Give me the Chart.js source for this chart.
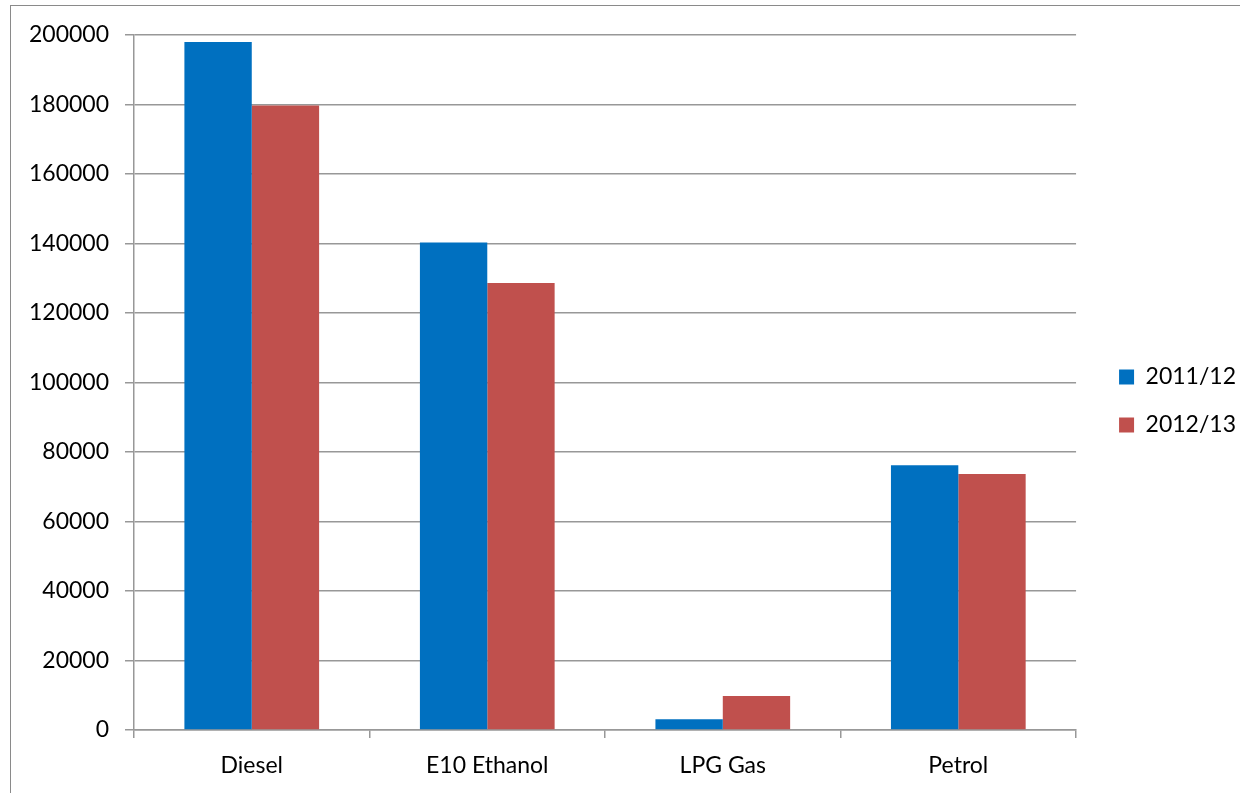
<!DOCTYPE html>
<html>
<head>
<meta charset="utf-8">
<script src="https://cdn.jsdelivr.net/npm/chart.js@4/dist/chart.umd.min.js"></script>
<style>
  html, body { margin: 0; padding: 0; background: #fff; overflow: hidden; }
  #wrap { position: relative; width: 1240px; height: 793px; }
  #frame { position: absolute; left: 10px; top: 5px; width: 1400px; height: 1000px;
           border: 1.5px solid #8a8a8a; box-sizing: border-box; pointer-events: none; }
  canvas { position: absolute; left: 0; top: 0; }
</style>
</head>
<body>
<div id="wrap">
  <div id="frame"></div>
  <canvas id="c" width="1240" height="793"></canvas>
</div>
<script>
const categories = ["Diesel", "E10 Ethanol", "LPG Gas", "Petrol"];
const series2011 = [198000, 140300, 3100, 76200];
const series2012 = [179700, 128600, 9800, 73700];
const seriesNames = ["2011/12", "2012/13"];
const yTicks = [0, 20000, 40000, 60000, 80000, 100000, 120000, 140000, 160000, 180000, 200000];

const FONT = { family: "Lato, 'Open Sans', sans-serif", size: 23 };
const GRID = "#989898";

new Chart(document.getElementById("c"), {
  type: "bar",
  data: {
    labels: categories,
    datasets: [
      { label: seriesNames[0], data: series2011, backgroundColor: "#0070C0", borderWidth: 0 },
      { label: seriesNames[1], data: series2012, backgroundColor: "#C0504D", borderWidth: 0 }
    ]
  },
  options: {
    responsive: false,
    animation: false,
    devicePixelRatio: 1,
    layout: { padding: { left: 0, top: 35, right: -6, bottom: 13 } },
    datasets: { bar: { categoryPercentage: 0.572, barPercentage: 1 } },
    plugins: {
      tooltip: { enabled: false },
      legend: {
        position: "right",
        fullSize: false,
        title: { display: true, text: "", font: { size: 10, lineHeight: 1 }, padding: 13.5 },
        labels: {
          font: FONT, color: "#000",
          boxWidth: 15, boxHeight: 15, padding: 25
        }
      }
    },
    scales: {
      x: {
        grid: { display: true, drawOnChartArea: false, drawTicks: true, tickLength: 8,
                color: GRID, lineWidth: 1.5, offset: true },
        border: { display: true, color: GRID, width: 1.5 },
        ticks: { font: FONT, color: "#000", padding: 14, maxRotation: 0 },
        afterFit: (s) => { s.height = 50; }
      },
      y: {
        min: 0, max: 200000,
        afterBuildTicks: (s) => { s.ticks = yTicks.map(v => ({ value: v })); },
        grid: { color: GRID, lineWidth: 1.5, tickLength: 9, drawTicks: true },
        border: { display: true, color: GRID, width: 1.5 },
        ticks: { font: FONT, color: "#000", padding: 16, callback: (v) => String(v) },
        afterFit: (s) => { s.width = 134; }
      },
      gap: {
        position: "right",
        display: true,
        grid: { display: false },
        border: { display: false },
        ticks: { display: false },
        afterFit: (s) => { s.width = 18; }
      }
    }
  }
});
</script>
</body>
</html>
